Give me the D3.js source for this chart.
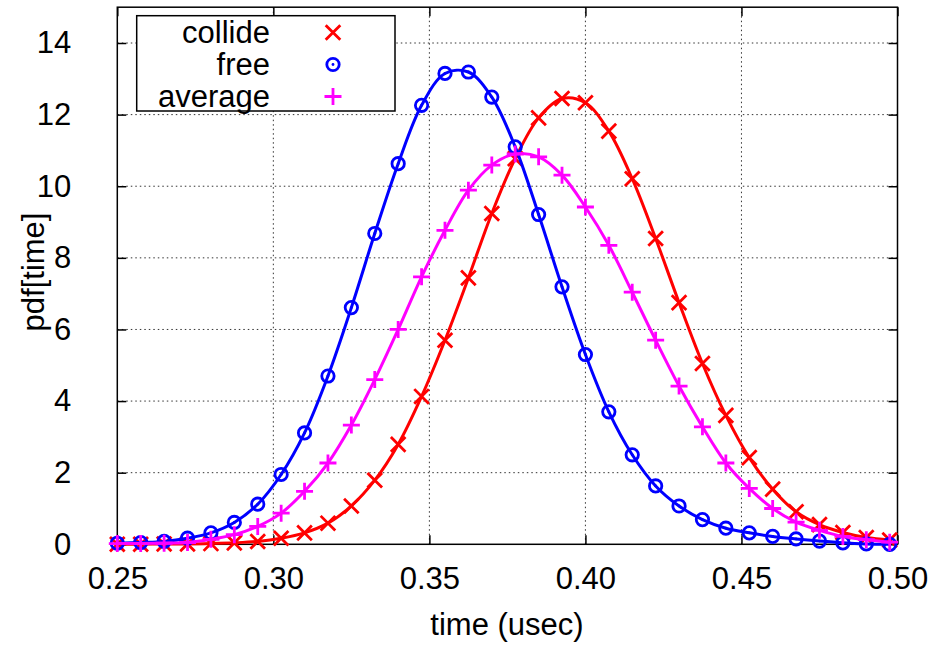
<!DOCTYPE html>
<html>
<head>
<meta charset="utf-8">
<script src="https://cdn.jsdelivr.net/npm/d3@7"></script>
<style>
  body { margin: 0; background: #fff; }
  text { font-family: "Liberation Sans", Arial, sans-serif; }
</style>
</head>
<body>
<div id="container"></div>
<script>
// sample times (usec)
let times = [0.25, 0.2575, 0.265, 0.2725, 0.28, 0.2875, 0.295, 0.3025, 0.31, 0.3175,
  0.325, 0.3325, 0.34, 0.3475, 0.355, 0.3625, 0.37, 0.3775, 0.385, 0.3925,
  0.40, 0.4075, 0.415, 0.4225, 0.43, 0.4375, 0.445, 0.4525, 0.46, 0.4675,
  0.475, 0.4825, 0.49, 0.4975];

let collide = [0.00, 0.00, 0.01, 0.01, 0.02, 0.04, 0.08, 0.17, 0.32, 0.59,
  1.07, 1.79, 2.79, 4.13, 5.70, 7.44, 9.24, 10.77, 11.91, 12.45,
  12.33, 11.54, 10.21, 8.54, 6.75, 5.05, 3.60, 2.42, 1.54, 0.91,
  0.55, 0.33, 0.19, 0.12];

let free = [0.03, 0.05, 0.08, 0.17, 0.32, 0.61, 1.12, 1.95, 3.11, 4.70,
  6.61, 8.68, 10.63, 12.26, 13.15, 13.19, 12.49, 11.10, 9.21, 7.19,
  5.30, 3.70, 2.50, 1.63, 1.07, 0.69, 0.45, 0.32, 0.22, 0.15,
  0.09, 0.04, 0.01, 0.00];

let average = [0.02, 0.02, 0.03, 0.05, 0.14, 0.27, 0.50, 0.87, 1.48, 2.27,
  3.33, 4.60, 6.00, 7.47, 8.77, 9.89, 10.59, 10.90, 10.82, 10.31,
  9.42, 8.35, 7.04, 5.70, 4.42, 3.28, 2.27, 1.56, 1.00, 0.62,
  0.39, 0.22, 0.13, 0.06];

let seriesNames = ["collide", "free", "average"];
let seriesColors = ["#ff0000", "#0000ff", "#ff00ff"];
let seriesShapes = ["cross", "circle", "plus"];

let xTicks = [0.25, 0.30, 0.35, 0.40, 0.45, 0.50];
let yTicks = [0, 2, 4, 6, 8, 10, 12, 14];

let w = 935;
let h = 648;
let pLeft = 117.3, pRight = 897.5, pTop = 7.2, pBottom = 544.3;
let fontSize = "31px";

let viz = d3.select("#container")
  .append("svg")
    .attr("width", w)
    .attr("height", h)
;

let xScale = d3.scaleLinear().domain([0.25, 0.50]).range([pLeft, pRight]);
let yScale = d3.scaleLinear().domain([0, 15]).range([pBottom, pTop]);

// grid
viz.append("g").selectAll("line").data(xTicks.slice(1, -1)).enter()
  .append("line")
    .attr("x1", d => xScale(d)).attr("x2", d => xScale(d))
    .attr("y1", pTop).attr("y2", pBottom)
    .attr("stroke", "#333").attr("stroke-width", 1)
    .attr("stroke-dasharray", "1.5,3")
;
viz.append("g").selectAll("line").data(yTicks.slice(1)).enter()
  .append("line")
    .attr("x1", pLeft).attr("x2", pRight)
    .attr("y1", d => yScale(d)).attr("y2", d => yScale(d))
    .attr("stroke", "#333").attr("stroke-width", 1)
    .attr("stroke-dasharray", "1.5,3")
;

// axes, ticks pointing inward and mirrored
let xAxisB = d3.axisBottom(xScale).tickValues(xTicks).tickFormat(d3.format(".2f")).tickSize(-9).tickPadding(23);
let xAxisT = d3.axisTop(xScale).tickValues(xTicks).tickFormat("").tickSize(-9);
let yAxisL = d3.axisLeft(yScale).tickValues(yTicks).tickFormat(d3.format("d")).tickSize(-9).tickPadding(46);
let yAxisR = d3.axisRight(yScale).tickValues(yTicks).tickFormat("").tickSize(-9);

let gB = viz.append("g").attr("transform", "translate(0," + pBottom + ")").call(xAxisB);
let gT = viz.append("g").attr("transform", "translate(0," + pTop + ")").call(xAxisT);
let gL = viz.append("g").attr("transform", "translate(" + pLeft + ",0)").call(yAxisL);
let gR = viz.append("g").attr("transform", "translate(" + pRight + ",0)").call(yAxisR);

[gB, gT, gL, gR].forEach(function(g){
  g.select(".domain").remove();
  g.selectAll(".tick line").attr("stroke", "#000").attr("stroke-width", 1.5);
  g.selectAll(".tick text").attr("fill", "#000").attr("font-size", fontSize)
    .style("font-family", "'Liberation Sans', Arial, sans-serif");
});
gB.selectAll(".tick text").attr("dy", "0.71em");

// frame
viz.append("rect")
  .attr("x", pLeft).attr("y", pTop)
  .attr("width", pRight - pLeft).attr("height", pBottom - pTop)
  .attr("fill", "none").attr("stroke", "#000").attr("stroke-width", 1.5)
;

// axis labels
viz.append("text")
  .text("time (usec)")
  .attr("x", 507)
  .attr("y", 635)
  .attr("text-anchor", "middle")
  .attr("font-size", fontSize)
;
viz.append("text")
  .text("pdf[time]")
  .attr("transform", "translate(44,272) rotate(-90)")
  .attr("text-anchor", "middle")
  .attr("font-size", fontSize)
;

function drawMarker(g, shape, color){
  if(shape == "cross"){
    g.append("path").attr("d", "M-7.3,-7.3L7.3,7.3M-7.3,7.3L7.3,-7.3")
      .attr("stroke", color).attr("stroke-width", 2.8).attr("fill", "none");
  }else if(shape == "plus"){
    g.append("path").attr("d", "M-8.5,0L8.5,0M0,-8.5L0,8.5")
      .attr("stroke", color).attr("stroke-width", 2.8).attr("fill", "none");
  }else{
    g.append("circle").attr("r", 6.2)
      .attr("stroke", color).attr("stroke-width", 2.8).attr("fill", "none");
    g.append("circle").attr("r", 1.4).attr("fill", color);
  }
}

let allSeries = [collide, free, average];

let plotGroup = viz.append("g");
let line = d3.line()
  .x((d, i) => xScale(times[i]))
  .y(d => yScale(d))
  .curve(d3.curveCatmullRom.alpha(0.5));

allSeries.forEach(function(values, s){
  let g = plotGroup.append("g");
  g.append("path")
    .attr("d", line(values))
    .attr("fill", "none")
    .attr("stroke", seriesColors[s])
    .attr("stroke-width", 3)
  ;
  values.forEach(function(v, i){
    let m = g.append("g").attr("transform", "translate(" + xScale(times[i]) + "," + yScale(v) + ")");
    drawMarker(m, seriesShapes[s], seriesColors[s]);
  });
});

// legend
let legend = viz.append("g");
legend.append("rect")
  .attr("x", 136.7).attr("y", 15.7)
  .attr("width", 258.3).attr("height", 95.3)
  .attr("fill", "#fff").attr("stroke", "#000").attr("stroke-width", 1.5)
;
seriesNames.forEach(function(name, s){
  let cy = 32.5 + s * 32;
  legend.append("text")
    .text(name)
    .attr("x", 270)
    .attr("y", cy)
    .attr("dy", "0.35em")
    .attr("text-anchor", "end")
    .attr("font-size", fontSize)
  ;
  let m = legend.append("g").attr("transform", "translate(333," + cy + ")");
  drawMarker(m, seriesShapes[s], seriesColors[s]);
});
</script>
</body>
</html>
